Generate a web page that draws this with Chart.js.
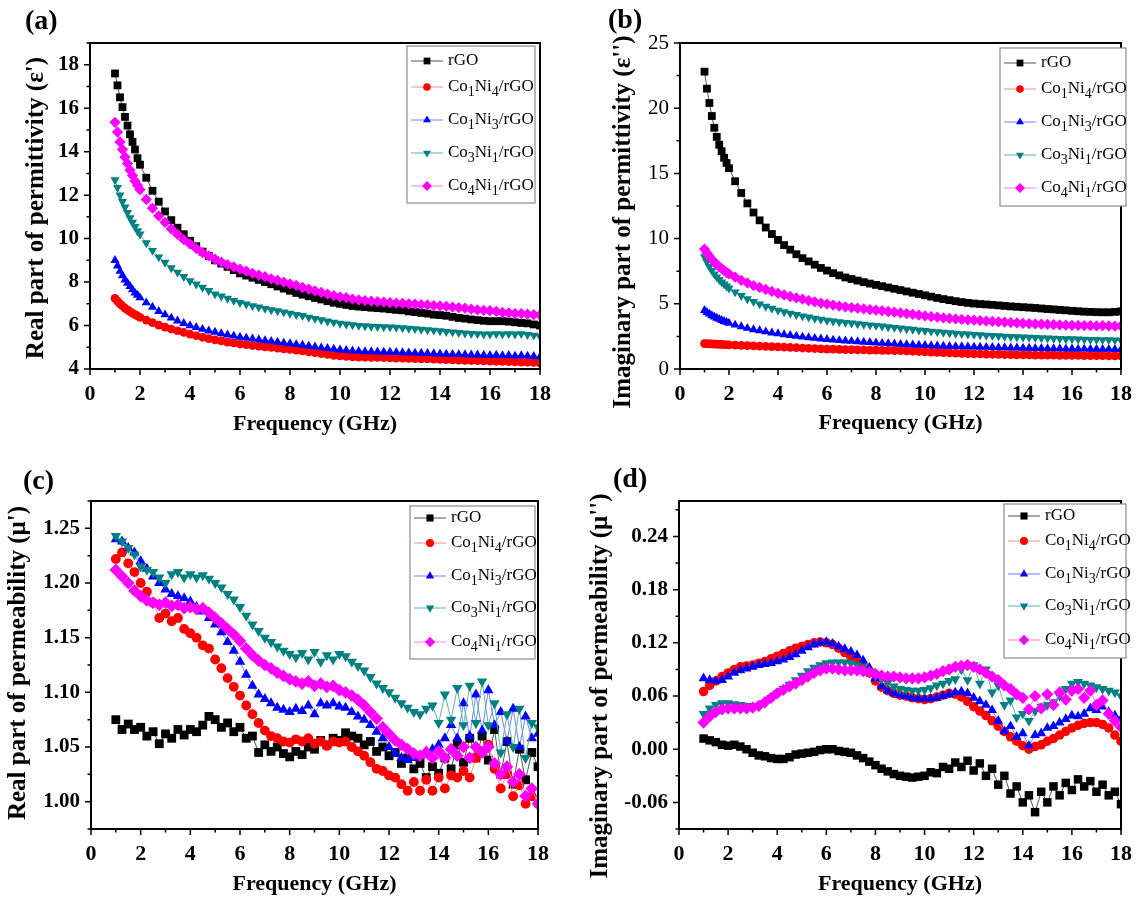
<!DOCTYPE html>
<html>
<head>
<meta charset="utf-8">
<title>Permittivity and permeability of rGO composites</title>
<script src="https://cdn.jsdelivr.net/npm/chart.js@4.4.1/dist/chart.umd.min.js"></script>
<style>
  body { margin: 0; background: #fff; }
  #page { position: relative; width: 1144px; height: 898px; overflow: hidden; background: #fff; }
  canvas { position: absolute; }
  .tag { position: absolute; font: bold 28px "Liberation Serif", "Times New Roman", serif; line-height: 28px; color: #000; }
</style>
</head>
<body>
<div id="page">
  <canvas id="chartA" width="572" height="449" style="left:0;top:0"></canvas>
  <canvas id="chartB" width="572" height="449" style="left:572px;top:0"></canvas>
  <canvas id="chartC" width="572" height="449" style="left:0;top:449px"></canvas>
  <canvas id="chartD" width="572" height="449" style="left:572px;top:449px"></canvas>
  <div class="tag" style="left:25px;top:6px">(a)</div>
  <div class="tag" style="left:608px;top:5px">(b)</div>
  <div class="tag" style="left:23px;top:466px">(c)</div>
  <div class="tag" style="left:613px;top:464px">(d)</div>
</div>
<script>
// frequency grids (GHz)
const freqE = [1.0, 1.1, 1.2, 1.3, 1.4, 1.5, 1.6, 1.7, 1.8, 1.9, 2.0,
  2.25, 2.5, 2.75, 3.0, 3.25, 3.5, 3.75, 4.0,
  4.25, 4.5, 4.75, 5.0, 5.25, 5.5, 5.75, 6.0,
  6.25, 6.5, 6.75, 7.0, 7.25, 7.5, 7.75, 8.0,
  8.25, 8.5, 8.75, 9.0, 9.25, 9.5, 9.75, 10.0,
  10.25, 10.5, 10.75, 11.0, 11.25, 11.5, 11.75, 12.0,
  12.25, 12.5, 12.75, 13.0, 13.25, 13.5, 13.75, 14.0,
  14.25, 14.5, 14.75, 15.0, 15.25, 15.5, 15.75, 16.0,
  16.25, 16.5, 16.75, 17.0, 17.25, 17.5, 17.75, 18.0];

const freqM = [1.0, 1.25, 1.5, 1.75, 2.0, 2.25, 2.5, 2.75,
  3.0, 3.25, 3.5, 3.75, 4.0, 4.25, 4.5, 4.75,
  5.0, 5.25, 5.5, 5.75, 6.0, 6.25, 6.5, 6.75,
  7.0, 7.25, 7.5, 7.75, 8.0, 8.25, 8.5, 8.75,
  9.0, 9.25, 9.5, 9.75, 10.0, 10.25, 10.5, 10.75,
  11.0, 11.25, 11.5, 11.75, 12.0, 12.25, 12.5, 12.75,
  13.0, 13.25, 13.5, 13.75, 14.0, 14.25, 14.5, 14.75,
  15.0, 15.25, 15.5, 15.75, 16.0, 16.25, 16.5, 16.75,
  17.0, 17.25, 17.5, 17.75, 18.0];

const seriesNames = ['rGO', 'Co1Ni4/rGO', 'Co1Ni3/rGO', 'Co3Ni1/rGO', 'Co4Ni1/rGO'];

// tick labels
const xTicks = [0, 2, 4, 6, 8, 10, 12, 14, 16, 18];
const yTicksA = [4, 6, 8, 10, 12, 14, 16, 18];
const yTicksB = [0, 5, 10, 15, 20, 25];
const yTicksC = [1.00, 1.05, 1.10, 1.15, 1.20, 1.25];
const yTicksD = [-0.06, 0.00, 0.06, 0.12, 0.18, 0.24];

// (a) real permittivity
const epsRe_rGO = [17.6, 17.05, 16.5, 16.05, 15.6, 15.2, 14.8, 14.45, 14.1, 13.7, 13.4,
  12.8, 12.2, 11.7, 11.25, 10.85, 10.5, 10.2, 9.9,
  9.65, 9.4, 9.2, 9.0, 8.85, 8.7, 8.55, 8.4,
  8.3, 8.2, 8.1, 8.0, 7.9, 7.8, 7.7, 7.6,
  7.5, 7.42, 7.35, 7.27, 7.2, 7.12, 7.05, 7.0,
  6.95, 6.9, 6.87, 6.85, 6.82, 6.8, 6.78, 6.75,
  6.72, 6.7, 6.65, 6.62, 6.58, 6.55, 6.5, 6.48,
  6.45, 6.4, 6.35, 6.32, 6.28, 6.25, 6.22, 6.2,
  6.2, 6.2, 6.18, 6.15, 6.12, 6.1, 6.05, 6.0];
const epsRe_Co1Ni4 = [7.25, 7.12, 7.0, 6.9, 6.8, 6.72, 6.64, 6.57, 6.5, 6.44, 6.38,
  6.25, 6.13, 6.02, 5.93, 5.84, 5.76, 5.68, 5.6,
  5.53, 5.46, 5.4, 5.34, 5.29, 5.24, 5.2, 5.15,
  5.12, 5.08, 5.05, 5.02, 4.99, 4.96, 4.93, 4.9,
  4.87, 4.83, 4.79, 4.75, 4.71, 4.67, 4.63, 4.6,
  4.58, 4.56, 4.55, 4.54, 4.53, 4.53, 4.52, 4.51,
  4.5, 4.5, 4.49, 4.48, 4.47, 4.46, 4.45, 4.44,
  4.43, 4.42, 4.41, 4.4, 4.39, 4.38, 4.37, 4.36,
  4.35, 4.35, 4.34, 4.33, 4.32, 4.31, 4.3, 4.28];
const epsRe_Co1Ni3 = [9.0, 8.75, 8.5, 8.3, 8.1, 7.95, 7.8, 7.65, 7.5, 7.4, 7.28,
  7.05, 6.85, 6.65, 6.5, 6.35, 6.22, 6.1, 6.0,
  5.92, 5.83, 5.76, 5.7, 5.63, 5.57, 5.52, 5.47,
  5.43, 5.39, 5.35, 5.31, 5.28, 5.24, 5.2, 5.17,
  5.13, 5.1, 5.06, 5.02, 4.98, 4.95, 4.92, 4.88,
  4.86, 4.84, 4.82, 4.8, 4.8, 4.79, 4.78, 4.78,
  4.77, 4.76, 4.75, 4.74, 4.73, 4.72, 4.71, 4.7,
  4.69, 4.68, 4.67, 4.66, 4.65, 4.65, 4.64, 4.63,
  4.64, 4.62, 4.63, 4.6, 4.62, 4.6, 4.58, 4.56];
const epsRe_Co3Ni1 = [12.7, 12.35, 12.0, 11.7, 11.45, 11.2, 10.95, 10.75, 10.55, 10.35, 10.2,
  9.8, 9.45, 9.15, 8.9, 8.65, 8.45, 8.25, 8.05,
  7.9, 7.75, 7.6, 7.45, 7.35, 7.25, 7.15, 7.05,
  6.98, 6.9, 6.85, 6.78, 6.72, 6.67, 6.62, 6.56,
  6.5, 6.45, 6.38, 6.32, 6.26, 6.2, 6.15, 6.1,
  6.06, 6.03, 6.0, 5.98, 5.96, 5.95, 5.94, 5.93,
  5.91, 5.89, 5.87, 5.85, 5.82, 5.8, 5.78, 5.75,
  5.72, 5.7, 5.67, 5.65, 5.63, 5.62, 5.6, 5.6,
  5.62, 5.6, 5.62, 5.6, 5.62, 5.58, 5.55, 5.5];
const epsRe_Co4Ni1 = [15.35, 14.9, 14.45, 14.1, 13.75, 13.45, 13.15, 12.9, 12.65, 12.45, 12.25,
  11.8, 11.4, 11.05, 10.75, 10.45, 10.2, 9.95, 9.75,
  9.55, 9.35, 9.2, 9.05, 8.92, 8.8, 8.7, 8.6,
  8.5, 8.4, 8.32, 8.25, 8.15, 8.08, 8.0, 7.92,
  7.85, 7.75, 7.68, 7.6, 7.52, 7.45, 7.38, 7.32,
  7.28, 7.22, 7.18, 7.15, 7.12, 7.1, 7.08, 7.05,
  7.03, 7.02, 7.0, 6.98, 6.96, 6.95, 6.92, 6.9,
  6.88, 6.85, 6.82, 6.8, 6.75, 6.72, 6.7, 6.68,
  6.65, 6.6, 6.58, 6.55, 6.55, 6.52, 6.5, 6.48];

// (b) imaginary permittivity
const epsIm_rGO = [22.8, 21.5, 20.4, 19.4, 18.5, 17.8, 17.2, 16.7, 16.2, 15.8, 15.4,
  14.4, 13.5, 12.7, 12.0, 11.4, 10.85, 10.35, 9.9,
  9.5, 9.15, 8.8, 8.5, 8.25, 8.0, 7.75, 7.55,
  7.35, 7.18, 7.02, 6.9, 6.78, 6.66, 6.55, 6.45,
  6.35, 6.25, 6.15, 6.05, 5.95, 5.85, 5.75, 5.65,
  5.55, 5.45, 5.36, 5.28, 5.2, 5.13, 5.07, 5.02,
  4.98, 4.95, 4.92, 4.88, 4.84, 4.8, 4.77, 4.74,
  4.71, 4.68, 4.64, 4.6, 4.57, 4.53, 4.5, 4.46,
  4.43, 4.4, 4.38, 4.36, 4.35, 4.35, 4.38, 4.42];
const epsIm_Co1Ni4 = [1.95, 1.94, 1.93, 1.92, 1.91, 1.9, 1.89, 1.88, 1.87, 1.86, 1.85,
  1.83, 1.81, 1.79, 1.77, 1.75, 1.73, 1.71, 1.69,
  1.67, 1.65, 1.63, 1.61, 1.59, 1.57, 1.55, 1.53,
  1.52, 1.5, 1.49, 1.48, 1.47, 1.46, 1.45, 1.44,
  1.43, 1.42, 1.41, 1.4, 1.38, 1.36, 1.34, 1.32,
  1.3, 1.28, 1.26, 1.24, 1.22, 1.2, 1.18, 1.16,
  1.15, 1.14, 1.13, 1.12, 1.11, 1.1, 1.09, 1.08,
  1.08, 1.07, 1.07, 1.06, 1.06, 1.05, 1.05, 1.04,
  1.04, 1.03, 1.03, 1.02, 1.02, 1.01, 1.01, 1.0];
const epsIm_Co1Ni3 = [4.5, 4.35, 4.22, 4.1, 4.0, 3.9, 3.82, 3.74, 3.66, 3.59, 3.52,
  3.38, 3.25, 3.13, 3.03, 2.94, 2.86, 2.78, 2.71,
  2.64, 2.58, 2.52, 2.46, 2.41, 2.36, 2.31, 2.27,
  2.23, 2.19, 2.16, 2.13, 2.1, 2.07, 2.04, 2.01,
  1.98, 1.96, 1.93, 1.9, 1.88, 1.86, 1.84, 1.82,
  1.8, 1.78, 1.76, 1.74, 1.73, 1.72, 1.7, 1.69,
  1.68, 1.67, 1.66, 1.65, 1.64, 1.63, 1.62, 1.61,
  1.6, 1.59, 1.58, 1.57, 1.56, 1.56, 1.55, 1.55,
  1.54, 1.54, 1.53, 1.53, 1.52, 1.52, 1.51, 1.5];
const epsIm_Co3Ni1 = [8.6, 8.2, 7.85, 7.55, 7.28, 7.05, 6.85, 6.67, 6.5, 6.35, 6.2,
  5.9, 5.62, 5.38, 5.17, 4.98, 4.8, 4.65, 4.5,
  4.38, 4.27, 4.16, 4.06, 3.97, 3.88, 3.8, 3.73,
  3.67, 3.61, 3.56, 3.51, 3.46, 3.42, 3.37, 3.33,
  3.28, 3.23, 3.18, 3.13, 3.08, 3.03, 2.98, 2.94,
  2.89, 2.85, 2.81, 2.77, 2.73, 2.7, 2.67, 2.64,
  2.61, 2.58, 2.55, 2.53, 2.5, 2.48, 2.46, 2.44,
  2.42, 2.4, 2.38, 2.36, 2.34, 2.33, 2.31, 2.3,
  2.29, 2.27, 2.26, 2.25, 2.24, 2.23, 2.22, 2.2];
const epsIm_Co4Ni1 = [9.2, 8.9, 8.65, 8.4, 8.2, 8.0, 7.85, 7.7, 7.55, 7.4, 7.3,
  7.05, 6.8, 6.6, 6.4, 6.25, 6.1, 5.95, 5.8,
  5.68, 5.56, 5.45, 5.35, 5.25, 5.15, 5.06, 4.98,
  4.9, 4.83, 4.77, 4.71, 4.66, 4.61, 4.56, 4.51,
  4.46, 4.41, 4.36, 4.3, 4.25, 4.19, 4.13, 4.07,
  4.02, 3.97, 3.92, 3.88, 3.84, 3.8, 3.77, 3.74,
  3.71, 3.68, 3.65, 3.62, 3.59, 3.56, 3.53, 3.5,
  3.48, 3.46, 3.44, 3.42, 3.4, 3.38, 3.36, 3.35,
  3.34, 3.33, 3.32, 3.3, 3.32, 3.3, 3.28, 3.3];

// (c) real permeability
const muRe_rGO = [1.075, 1.066, 1.071, 1.066, 1.068, 1.06, 1.064, 1.053,
  1.062, 1.058, 1.066, 1.061, 1.066, 1.064, 1.07, 1.078,
  1.075, 1.068, 1.072, 1.064, 1.068, 1.058, 1.06, 1.045,
  1.052, 1.046, 1.05, 1.044, 1.041, 1.046, 1.043, 1.05,
  1.048, 1.056, 1.052, 1.058, 1.056, 1.063, 1.06, 1.058,
  1.052, 1.055, 1.046, 1.05, 1.042, 1.045, 1.035, 1.04,
  1.03, 1.035, 1.022, 1.032, 1.026, 1.04, 1.03, 1.052,
  1.036, 1.058, 1.04, 1.06, 1.038, 1.066, 1.025, 1.055,
  1.016, 1.048, 1.02, 1.045, 1.032];
const muRe_Co1Ni4 = [1.222, 1.228, 1.218, 1.21, 1.2, 1.192, 1.182, 1.168,
  1.172, 1.165, 1.168, 1.158, 1.154, 1.15, 1.143, 1.14,
  1.13, 1.122, 1.113, 1.105, 1.097, 1.088, 1.08, 1.072,
  1.065, 1.06, 1.058, 1.055, 1.054, 1.057, 1.055, 1.058,
  1.053, 1.055, 1.051, 1.055, 1.054, 1.055, 1.05, 1.046,
  1.042, 1.036, 1.03, 1.028, 1.024, 1.022, 1.016, 1.01,
  1.018, 1.01, 1.02, 1.01, 1.022, 1.012, 1.024, 1.022,
  1.028, 1.022, 1.04, 1.045, 1.052, 1.03, 1.012, 1.025,
  1.005, 1.015, 0.998, 1.005, 0.998];
const muRe_Co1Ni3 = [1.24, 1.238, 1.232, 1.228, 1.22, 1.213, 1.206, 1.2,
  1.194, 1.19, 1.188, 1.186, 1.183, 1.178, 1.174, 1.168,
  1.162, 1.155, 1.146, 1.138, 1.128, 1.116, 1.106, 1.098,
  1.094, 1.09, 1.086, 1.084, 1.082, 1.085, 1.083, 1.088,
  1.08, 1.09, 1.088, 1.09, 1.087, 1.086, 1.082, 1.078,
  1.075, 1.07, 1.064, 1.058, 1.05, 1.044, 1.04, 1.038,
  1.04, 1.042, 1.046, 1.048, 1.052, 1.058, 1.07, 1.058,
  1.09, 1.06, 1.098, 1.065, 1.102, 1.07, 1.082, 1.055,
  1.085, 1.05, 1.078, 1.058, 1.062];
const muRe_Co3Ni1 = [1.243, 1.238, 1.232, 1.226, 1.215, 1.212, 1.21, 1.205,
  1.2, 1.208, 1.21, 1.205, 1.208, 1.205, 1.207, 1.204,
  1.2, 1.196, 1.19, 1.185, 1.178, 1.17, 1.162, 1.156,
  1.15, 1.146, 1.142, 1.138, 1.135, 1.132, 1.136, 1.13,
  1.137, 1.128, 1.134, 1.13, 1.135, 1.133, 1.128, 1.124,
  1.12, 1.114, 1.108, 1.104, 1.1, 1.095, 1.09, 1.086,
  1.082, 1.08, 1.085, 1.088, 1.072, 1.098, 1.075, 1.104,
  1.07, 1.106, 1.072, 1.11, 1.07, 1.09, 1.045, 1.08,
  1.05, 1.085, 1.04, 1.072, 1.068];
const muRe_Co4Ni1 = [1.212, 1.206, 1.2, 1.193, 1.188, 1.184, 1.182, 1.18,
  1.182, 1.179, 1.18, 1.177, 1.178, 1.176, 1.177, 1.173,
  1.168, 1.163, 1.158, 1.153, 1.147, 1.14, 1.134, 1.129,
  1.125, 1.122, 1.118, 1.115, 1.112, 1.11, 1.108, 1.11,
  1.106, 1.108, 1.105, 1.106, 1.102, 1.1, 1.097, 1.093,
  1.088, 1.082, 1.076, 1.068, 1.062, 1.056, 1.052, 1.048,
  1.044, 1.042, 1.045, 1.04, 1.046, 1.04, 1.048, 1.042,
  1.05, 1.04, 1.05, 1.045, 1.05, 1.035, 1.025, 1.032,
  1.018, 1.025, 1.005, 1.012, 0.998];

// (d) imaginary permeability
const muIm_rGO = [0.012, 0.01, 0.008, 0.005, 0.004, 0.005, 0.003, 0.0,
  -0.004, -0.007, -0.008, -0.01, -0.011, -0.011, -0.009, -0.006,
  -0.005, -0.004, -0.003, -0.001, 0.0, 0.0, -0.002, -0.003,
  -0.004, -0.007, -0.01, -0.014, -0.018, -0.022, -0.025, -0.028,
  -0.03, -0.031, -0.032, -0.031, -0.03, -0.026, -0.027, -0.02,
  -0.022, -0.015, -0.02, -0.013, -0.024, -0.016, -0.03, -0.022,
  -0.04, -0.03, -0.05, -0.042, -0.06, -0.052, -0.071, -0.048,
  -0.06, -0.042, -0.052, -0.038, -0.046, -0.034, -0.042, -0.036,
  -0.048, -0.04, -0.052, -0.048, -0.062];
const muIm_Co1Ni4 = [0.065, 0.072, 0.077, 0.082, 0.086, 0.09, 0.093, 0.094,
  0.095, 0.097, 0.099, 0.102, 0.105, 0.108, 0.111, 0.114,
  0.116, 0.118, 0.12, 0.121, 0.12, 0.118, 0.114, 0.109,
  0.104, 0.1, 0.094, 0.086, 0.077, 0.07, 0.066, 0.063,
  0.061, 0.06, 0.058, 0.057, 0.056, 0.057, 0.059, 0.061,
  0.063, 0.062, 0.059, 0.054, 0.048, 0.043, 0.038, 0.032,
  0.026, 0.02, 0.014, 0.009, 0.004, 0.0, 0.003, 0.005,
  0.009, 0.012, 0.016, 0.02, 0.024, 0.027, 0.029, 0.03,
  0.03, 0.028, 0.024, 0.016, 0.009];
const muIm_Co1Ni3 = [0.08, 0.078, 0.077, 0.078, 0.082, 0.086, 0.089, 0.091,
  0.093, 0.095, 0.096, 0.097, 0.099, 0.101, 0.104, 0.107,
  0.111, 0.115, 0.118, 0.12, 0.121, 0.119, 0.116, 0.113,
  0.11, 0.106, 0.1, 0.092, 0.08, 0.071, 0.066, 0.063,
  0.061, 0.06, 0.058, 0.057, 0.057, 0.057, 0.058, 0.06,
  0.062, 0.064, 0.065, 0.063, 0.058, 0.054, 0.05, 0.044,
  0.032, 0.02, 0.026, 0.014, 0.018, 0.004, 0.016, 0.018,
  0.024, 0.026, 0.03, 0.034, 0.038, 0.037, 0.04, 0.046,
  0.044, 0.048, 0.042, 0.038, 0.034];
const muIm_Co3Ni1 = [0.04, 0.046, 0.05, 0.052, 0.052, 0.051, 0.05, 0.049,
  0.048, 0.049, 0.052, 0.058, 0.063, 0.068, 0.073, 0.078,
  0.083, 0.088, 0.092, 0.095, 0.097, 0.098, 0.098, 0.098,
  0.097, 0.095, 0.092, 0.088, 0.083, 0.079, 0.075, 0.071,
  0.068, 0.067, 0.066, 0.066, 0.067, 0.069, 0.072, 0.074,
  0.077, 0.079, 0.09, 0.078, 0.095, 0.074, 0.09, 0.064,
  0.072, 0.05, 0.055, 0.036, 0.04, 0.032, 0.043, 0.048,
  0.05, 0.053, 0.06, 0.068, 0.074, 0.076, 0.074, 0.072,
  0.07, 0.068, 0.066, 0.064, 0.06];
const muIm_Co4Ni1 = [0.03, 0.037, 0.042, 0.045, 0.046, 0.046, 0.046, 0.046,
  0.047, 0.049, 0.053, 0.058, 0.063, 0.067, 0.071, 0.074,
  0.078, 0.082, 0.086, 0.089, 0.091, 0.091, 0.09, 0.089,
  0.089, 0.089, 0.088, 0.087, 0.085, 0.083, 0.082, 0.082,
  0.081, 0.08, 0.08, 0.08, 0.081, 0.083, 0.085, 0.088,
  0.09, 0.093, 0.094, 0.095, 0.093, 0.09, 0.086, 0.082,
  0.078, 0.072, 0.068, 0.062, 0.058, 0.045, 0.06, 0.046,
  0.062, 0.05, 0.064, 0.056, 0.066, 0.068, 0.058, 0.066,
  0.05, 0.055, 0.04, 0.032, 0.025];

// look of each series, same order as seriesNames
const markColors = ['#000000', '#ff0000', '#0000ff', '#008080', '#ff00ff'];
const lineColors = ['#555555', '#ff8a8a', '#7a7aff', '#5fb0b0', '#ff7aff'];
const markStyles = ['rect', 'circle', 'triangle', 'triangle', 'rectRot'];
const markRotation = [0, 0, 0, 180, 0];
const markRadius = [4.8, 3.8, 4.6, 4.6, 4.9];

const SERIF = "'Liberation Serif', 'Times New Roman', serif";

function drawLabel(ctx, text, x, y, size) {
  // digits are set as subscripts (Co1Ni4 -> Co₁Ni₄)
  const parts = text.match(/\d+|\D+/g);
  ctx.textBaseline = 'middle';
  ctx.textAlign = 'left';
  for (const p of parts) {
    const sub = /^\d+$/.test(p);
    ctx.font = (sub ? Math.round(size * 0.82) : size) + 'px ' + SERIF;
    ctx.fillText(p, x, sub ? y + size * 0.34 : y);
    x += ctx.measureText(p).width;
  }
}

function markPoint(ctx, i, x, y, r) {
  ctx.fillStyle = markColors[i];
  if (Chart.helpers && Chart.helpers.drawPoint) {
    Chart.helpers.drawPoint(ctx, { pointStyle: markStyles[i], rotation: markRotation[i], radius: r, borderWidth: 0 }, x, y);
  } else {
    ctx.fillRect(x - r * 0.7, y - r * 0.7, r * 1.4, r * 1.4);
  }
}

function framePlugin(p) {
  return {
    id: 'frame',
    afterDraw(chart) {
      const { ctx, chartArea: a } = chart;
      const xs = chart.scales.x, ys = chart.scales.y;
      const isMajor = (v, list) => list.some(t => Math.abs(t - v) < 1e-6);
      ctx.save();
      ctx.strokeStyle = '#000';
      ctx.lineWidth = 1.5;
      ctx.beginPath();
      for (let i = 0; p.xMinorFrom + i * p.xMinor <= xs.max + 1e-9; i++) {
        const v = p.xMinorFrom + i * p.xMinor;
        const px = xs.getPixelForValue(v);
        ctx.moveTo(px, a.bottom);
        ctx.lineTo(px, a.bottom + (isMajor(v, xTicks) ? 6 : 3.5));
      }
      for (let i = 0; p.yMinorFrom + i * p.yMinor <= ys.max + 1e-9; i++) {
        const v = p.yMinorFrom + i * p.yMinor;
        const py = ys.getPixelForValue(v);
        ctx.moveTo(a.left, py);
        ctx.lineTo(a.left - (isMajor(v, p.yTicks) ? 6 : 3.5), py);
      }
      ctx.stroke();
      ctx.lineWidth = 2;
      ctx.strokeRect(a.left, a.top, a.right - a.left, a.bottom - a.top);

      // y axis title, placed as in the figure (not centred on the axis for b and d)
      ctx.save();
      ctx.translate(p.yTitleX, p.yTitleY);
      ctx.rotate(-Math.PI / 2);
      ctx.fillStyle = '#000';
      ctx.font = 'bold 25px ' + SERIF;
      ctx.textAlign = 'center';
      ctx.textBaseline = 'middle';
      ctx.fillText(p.yTitle, 0, 0);
      ctx.restore();

      // legend box
      const L = p.legend;
      ctx.fillStyle = '#fff';
      ctx.fillRect(L.x, L.y, L.w, L.h);
      ctx.strokeStyle = '#8a8a8a';
      ctx.lineWidth = 1.2;
      ctx.strokeRect(L.x, L.y, L.w, L.h);
      seriesNames.forEach((name, i) => {
        const y = L.y + L.rows[i];
        ctx.strokeStyle = lineColors[i];
        ctx.lineWidth = 1;
        ctx.beginPath();
        ctx.moveTo(L.x + 4, y);
        ctx.lineTo(L.x + 36, y);
        ctx.stroke();
        markPoint(ctx, i, L.x + 20, y, markRadius[i] * p.legendMarker);
        ctx.fillStyle = '#000';
        drawLabel(ctx, name, L.x + 41, y, 17);
      });
      ctx.restore();
    }
  };
}

function makeChart(p) {
  const datasets = p.series.map((vals, i) => ({
    label: seriesNames[i],
    data: p.freq.map((f, k) => ({ x: f, y: vals[k] })),
    borderColor: lineColors[i],
    borderWidth: 1,
    backgroundColor: markColors[i],
    pointBackgroundColor: markColors[i],
    pointBorderWidth: 0,
    pointStyle: markStyles[i],
    pointRotation: markRotation[i],
    pointRadius: markRadius[i] * p.marker,
    tension: 0,
    order: p.series.length - i
  }));
  return new Chart(document.getElementById(p.id), {
    type: 'line',
    data: { datasets },
    options: {
      responsive: false,
      animation: false,
      layout: { padding: { top: p.padTop, right: p.padRight, left: 0, bottom: 0 } },
      plugins: { legend: { display: false }, tooltip: { enabled: false } },
      scales: {
        x: {
          type: 'linear', min: 0, max: 18,
          afterBuildTicks: s => { s.ticks = xTicks.map(v => ({ value: v })); },
          afterFit: s => { s.height = p.xHeight; },
          ticks: { color: '#000', padding: 12, maxRotation: 0, font: { family: SERIF, size: 22, weight: 'bold' } },
          grid: { display: false, drawTicks: false, tickLength: 0 },
          border: { display: false },
          title: { display: true, text: 'Frequency (GHz)', color: '#000', padding: { top: 0, bottom: p.xTitlePad },
                   font: { family: SERIF, size: 22, weight: 'bold' } }
        },
        y: {
          type: 'linear', min: p.yMin, max: p.yMax,
          afterBuildTicks: s => { s.ticks = p.yTicks.map(v => ({ value: v })); },
          afterFit: s => { s.width = p.yWidth; },
          ticks: { color: '#000', padding: 11, callback: v => v.toFixed(p.yDigits),
                   font: { family: SERIF, size: 21, weight: p.yBold ? 'bold' : 'normal' } },
          grid: { display: false, drawTicks: false, tickLength: 0 },
          border: { display: false },
          title: { display: false }
        }
      }
    },
    plugins: [framePlugin(p)]
  });
}

const rowsTop = [15, 41, 74, 107, 140];
const rowsBottom = [12, 37, 70, 102, 136];

makeChart({
  id: 'chartA', freq: freqE,
  series: [epsRe_rGO, epsRe_Co1Ni4, epsRe_Co1Ni3, epsRe_Co3Ni1, epsRe_Co4Ni1],
  yMin: 4, yMax: 19, yTicks: yTicksA, yMinorFrom: 4, yMinor: 1, yDigits: 0, yBold: true,
  xMinorFrom: 0, xMinor: 1,
  yTitle: "Real part of permittivity (ε')", yTitleX: 37, yTitleY: 208,
  yWidth: 90, padTop: 43, padRight: 32, xHeight: 80, xTitlePad: 11, marker: 1.15, legendMarker: 1,
  legend: { x: 407, y: 46, w: 128, h: 157, rows: rowsTop }
});
makeChart({
  id: 'chartB', freq: freqE,
  series: [epsIm_rGO, epsIm_Co1Ni4, epsIm_Co1Ni3, epsIm_Co3Ni1, epsIm_Co4Ni1],
  yMin: 0, yMax: 25, yTicks: yTicksB, yMinorFrom: 0, yMinor: 2.5, yDigits: 0, yBold: false,
  xMinorFrom: 0, xMinor: 1,
  yTitle: "Imaginary part of permittivity (ε'')", yTitleX: 52, yTitleY: 222,
  yWidth: 108, padTop: 43, padRight: 14, xHeight: 80, xTitlePad: 12, marker: 1.15, legendMarker: 1,
  legend: { x: 428, y: 48, w: 126, h: 158, rows: rowsTop }
});
makeChart({
  id: 'chartC', freq: freqM,
  series: [muRe_rGO, muRe_Co1Ni4, muRe_Co1Ni3, muRe_Co3Ni1, muRe_Co4Ni1],
  yMin: 0.975, yMax: 1.275, yTicks: yTicksC, yMinorFrom: 0.975, yMinor: 0.025, yDigits: 2, yBold: true,
  xMinorFrom: 0, xMinor: 1,
  yTitle: "Real part of permeability (μ')", yTitleX: 19, yTitleY: 214,
  yWidth: 91, padTop: 52, padRight: 34, xHeight: 69, xTitlePad: 0, marker: 1.3, legendMarker: 1.05,
  legend: { x: 410, y: 57, w: 125, h: 153, rows: rowsBottom }
});
makeChart({
  id: 'chartD', freq: freqM,
  series: [muIm_rGO, muIm_Co1Ni4, muIm_Co1Ni3, muIm_Co3Ni1, muIm_Co4Ni1],
  yMin: -0.09, yMax: 0.28, yTicks: yTicksD, yMinorFrom: -0.09, yMinor: 0.03, yDigits: 2, yBold: true,
  xMinorFrom: 0, xMinor: 1,
  yTitle: "Imaginary part of permeability (μ'')", yTitleX: 29, yTitleY: 237,
  yWidth: 107, padTop: 52, padRight: 15, xHeight: 69, xTitlePad: 0, marker: 1.25, legendMarker: 1.05,
  legend: { x: 432, y: 55, w: 122, h: 154, rows: rowsBottom }
});
</script>
</body>
</html>
